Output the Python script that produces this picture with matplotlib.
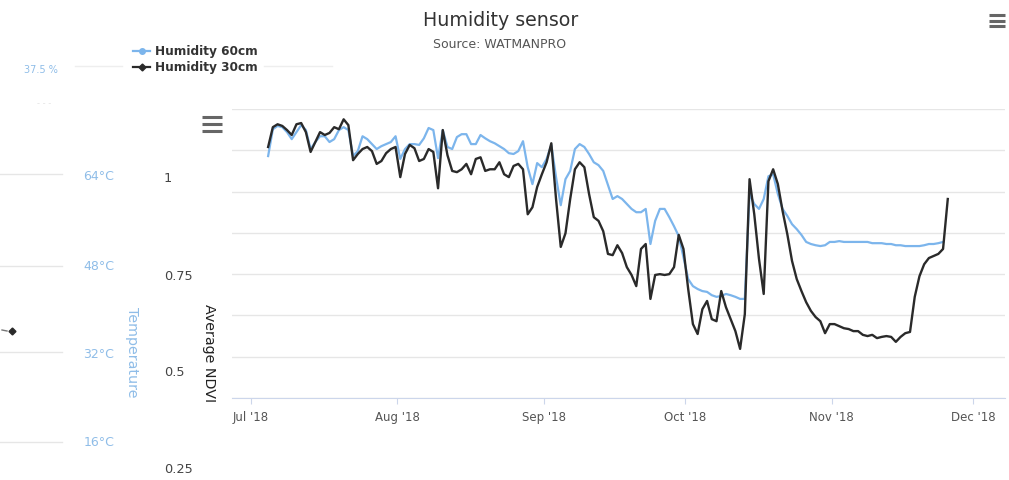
import matplotlib
matplotlib.use('Agg')
import matplotlib.pyplot as plt
import pandas as pd
from matplotlib.lines import Line2D
import matplotlib.ticker as mticker

# ---------------- data ----------------
start_date = '2018-07-04'
humidity_30 = [60.8, 65.6, 66.3, 65.9, 64.9, 63.7, 66.3, 66.6, 64.4, 59.6,
               62.0, 64.4, 63.7, 64.2, 65.6, 65.1, 67.5, 66.1, 57.6, 59.1,
               60.3, 60.8, 59.8, 56.7, 57.4, 59.3, 60.3, 60.8, 53.5, 59.1,
               61.3, 60.5, 57.4, 57.9, 60.3, 59.6, 50.8, 64.9, 58.8, 55.0,
               54.7, 55.4, 56.7, 54.2, 57.9, 58.3, 55.0, 55.4, 55.4, 57.1,
               54.2, 53.5, 56.2, 56.7, 55.4, 44.5, 46.2, 51.1, 54.2, 57.1,
               61.7, 48.2, 36.6, 39.9, 48.2, 55.4, 57.1, 55.9, 49.4, 43.8,
               42.9, 40.4, 34.9, 34.6, 37.0, 35.1, 31.7, 29.8, 27.1, 36.1,
               37.3, 24.0, 29.8, 30.0, 29.8, 30.0, 31.7, 39.5, 36.1, 26.4,
               17.9, 15.5, 21.5, 23.5, 19.1, 18.6, 25.9, 22.0, 19.1, 16.2,
               11.9, 20.3, 53.0, 44.5, 33.7, 25.2, 52.5, 55.4, 51.8, 45.3,
               39.7, 33.2, 28.8, 25.9, 23.2, 21.1, 19.6, 18.6, 15.7, 17.9,
               17.9, 17.4, 16.9, 16.7, 16.2, 16.2, 15.3, 15.0, 15.3, 14.5,
               14.8, 15.0, 14.8, 13.6, 14.8, 15.7, 16.0, 24.5, 29.5, 32.4,
               33.9, 34.4, 34.9, 36.1, 48.2]
humidity_60 = [58.6, 65.1, 65.9, 65.6, 64.4, 62.7, 64.4, 66.1, 64.9, 60.3,
               62.0, 63.4, 63.4, 62.0, 62.7, 64.9, 65.6, 64.9, 58.6, 59.8,
               63.4, 62.7, 61.5, 60.3, 61.0, 61.5, 62.0, 63.4, 57.9, 60.3,
               61.5, 61.5, 61.3, 62.9, 65.4, 64.9, 58.1, 64.9, 60.8, 60.3,
               63.2, 63.9, 63.9, 61.5, 61.5, 63.7, 62.9, 62.2, 61.7, 61.0,
               60.3, 59.3, 59.1, 59.8, 62.2, 55.9, 51.8, 56.9, 55.9, 57.9,
               61.3, 53.5, 46.7, 53.0, 55.0, 60.3, 61.5, 60.8, 59.1, 57.1,
               56.4, 55.0, 51.6, 48.2, 48.9, 48.2, 47.0, 45.8, 45.0, 45.0,
               45.8, 37.3, 42.9, 45.8, 45.8, 43.8, 41.6, 39.2, 34.1, 28.8,
               27.1, 26.4, 25.9, 25.7, 24.9, 24.5, 24.7, 25.2, 24.9, 24.5,
               24.0, 24.0, 49.4, 47.0, 45.8, 48.2, 53.7, 54.2, 49.4, 45.8,
               44.1, 42.1, 40.9, 39.5, 37.8, 37.3, 37.0, 36.8, 37.0, 37.8,
               37.8, 38.0, 37.8, 37.8, 37.8, 37.8, 37.8, 37.8, 37.5, 37.5,
               37.5, 37.3, 37.3, 37.0, 37.0, 36.8, 36.8, 36.8, 36.8, 37.0,
               37.3, 37.3, 37.5, 37.8]
month_ticks = ['2018-07-01', '2018-08-01', '2018-09-01', '2018-10-01',
               '2018-11-01', '2018-12-01']
month_labels = ["Jul '18", "Aug '18", "Sep '18", "Oct '18", "Nov '18", "Dec '18"]
series_names = ['Humidity 60cm', 'Humidity 30cm']
temp_labels = ['64°C', '48°C', '32°C', '16°C']
ndvi_labels = ['1', '0.75', '0.5', '0.25']

# ---------------- figure ----------------
W, H = 1009, 481
fig = plt.figure(figsize=(W / 100, H / 100), dpi=100)
fig.patch.set_facecolor('white')


def fx(x):
    return x / W


def fy(y):
    return 1 - y / H


BLUE = '#7cb5ec'
BLACK = '#2a2a2a'

ax = fig.add_axes([fx(232), fy(399), (1005 - 232) / W, (399 - 110) / H])
offset = pd.Timedelta(hours=15)
d30 = pd.date_range(start_date, periods=len(humidity_30), freq='D') + offset
d60 = pd.date_range(start_date, periods=len(humidity_60), freq='D') + offset
ax.plot(d60, humidity_60, color=BLUE, lw=1.6, solid_joinstyle='round', zorder=3)
ax.plot(d30, humidity_30, color=BLACK, lw=1.7, solid_joinstyle='round', zorder=4)

jul1 = pd.Timestamp('2018-07-01')
ax.set_xlim(jul1 - pd.Timedelta(days=4.03), jul1 + pd.Timedelta(days=159.75))
ax.set_ylim(0, 70)
ax.yaxis.set_major_locator(mticker.MultipleLocator(10))
ax.grid(axis='y', color='#e6e6e6', lw=1)
ax.set_axisbelow(True)
ax.tick_params(axis='y', length=0, labelleft=False)
ax.set_xticks(pd.to_datetime(month_ticks))
ax.set_xticklabels(month_labels)
ax.tick_params(axis='x', length=4, color='#ccd6eb', labelsize=8.5,
               labelcolor='#555555', pad=5)
for s in ['top', 'right', 'left']:
    ax.spines[s].set_visible(False)
ax.spines['bottom'].set_color('#ccd6eb')

# ---------------- titles ----------------
fig.text(fx(501), fy(20), 'Humidity sensor', ha='center', va='center',
         fontsize=13.7, color='#333333')
fig.text(fx(500), fy(44), 'Source: WATMANPRO', ha='center', va='center',
         fontsize=9, color='#555555')


def hamburger(x0, x1, ys):
    for y in ys:
        fig.add_artist(Line2D([fx(x0), fx(x1)], [fy(y), fy(y)], color='#666666',
                              lw=2.2, solid_capstyle='butt'))


hamburger(989, 1005, [16, 21.5, 27])
hamburger(202, 222, [118, 125, 132])

# ---------------- legend ----------------
fig.add_artist(Line2D([fx(75), fx(122)], [fy(67), fy(67)], color='#eeeeee', lw=1))
fig.add_artist(Line2D([fx(264), fx(332)], [fy(67), fy(67)], color='#eeeeee', lw=1))
legend_y = [52, 68]
legend_col = [BLUE, BLACK]
legend_mk = ['o', 'D']
for name, yy, c, m in zip(series_names, legend_y, legend_col, legend_mk):
    fig.add_artist(Line2D([fx(133), fx(150)], [fy(yy), fy(yy)], color=c, lw=1.6))
    fig.add_artist(Line2D([fx(141.5)], [fy(yy)], color=c, marker=m,
                          markersize=4 if m == 'o' else 3.5, lw=0))
    fig.text(fx(155), fy(yy), name, ha='left', va='center', fontsize=8.7,
             fontweight='bold', color='#333333')

# ---------------- overlay fragments on the left ----------------
fig.text(fx(58), fy(70), '37.5 %', ha='right', va='center', fontsize=7,
         color='#8fbde8')
fig.text(fx(44), fy(104), '- - -', ha='center', va='center', fontsize=6,
         color='#e4e4e4')

temp_y = [177, 267, 354, 443]
grid_y = [175, 267, 353, 443]
for gy in grid_y:
    fig.add_artist(Line2D([0, fx(62)], [fy(gy), fy(gy)], color='#e6e6e6', lw=1))
for lab, yy in zip(temp_labels, temp_y):
    fig.text(fx(99), fy(yy), lab, ha='center', va='center', fontsize=9,
             color='#8fbde8')
fig.text(fx(132), fy(352), 'Temperature', rotation=270, ha='center', va='center',
         fontsize=10.3, color='#8fbde8')

ndvi_y = [178, 277, 373, 470]
for lab, yy in zip(ndvi_labels, ndvi_y):
    fig.text(fx(164), fy(yy), lab, ha='left', va='center', fontsize=9.3,
             color='#444444')
fig.text(fx(209), fy(353), 'Average NDVI', rotation=270, ha='center', va='center',
         fontsize=10.3, color='#222222')

# small marker fragment at far left
fig.add_artist(Line2D([fx(12)], [fy(332)], color=BLACK, marker='D',
                      markersize=3.5, lw=0))
fig.add_artist(Line2D([fx(2), fx(7)], [fy(331), fy(332)], color='#777777', lw=1))

fig.savefig('out.png', dpi=100, facecolor='white')
